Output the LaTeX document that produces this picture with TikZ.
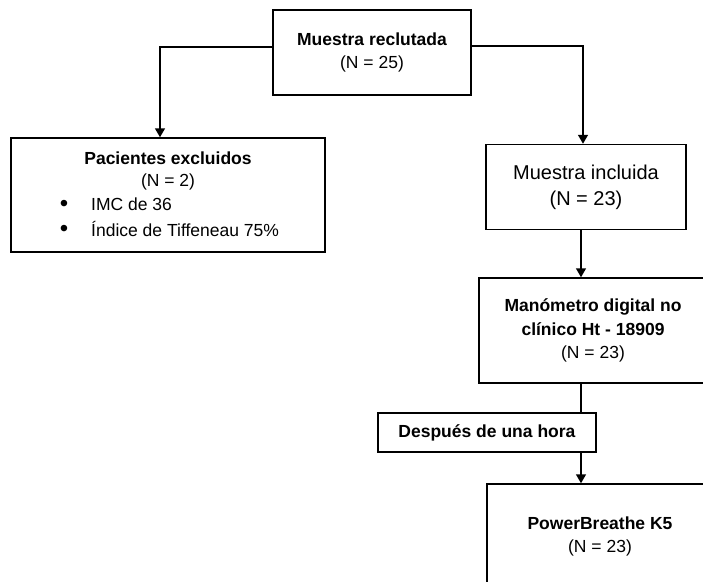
\documentclass[tikz,border=0pt]{standalone}
\usepackage{fontspec}
\setmainfont{Liberation Sans}
\usetikzlibrary{arrows.meta}
\begin{document}
\begin{tikzpicture}[x=1pt,y=-1pt,
  box/.style={draw=black, line width=1.5pt, fill=white, inner sep=0pt, align=center,
    font=\fontsize{17.5}{23.5}\selectfont},
  txt/.style={inner sep=0pt, font=\fontsize{17.5}{23.5}\selectfont},
  dot/.style={inner sep=0pt, font=\fontsize{24}{24}\selectfont},
  conn/.style={draw=black, line width=1.5pt},
  arr/.style={conn, -{Triangle[length=9pt,width=10pt]}}]
\useasboundingbox (0,0) rectangle (703,581);
\clip (0,0) rectangle (703,581);
\fill[white] (0,0) rectangle (703,581);

% boxes
\node[box, minimum width=198pt, minimum height=85pt] (top) at (372,52.5)
  {\textbf{Muestra reclutada}\\(N = 25)};
\node[box, minimum width=314pt, minimum height=114pt] (excl) at (168,195) {};
\node[txt, font=\fontsize{17.5}{23.5}\bfseries] (exclt) at (168,158) {Pacientes excluidos};
\node[txt] (excln) at (168,182) {(N = 2)};
\node[dot] (d1) at (64,205.5) {\textbullet};
\node[dot] (d2) at (64,230.5) {\textbullet};
\node[txt, anchor=west] (b1) at (91,204) {IMC de 36};
\node[txt, anchor=west] (b2) at (91,229) {Índice de Tiffeneau 75\%};

\node[box, minimum width=200pt, minimum height=85pt,
  font=\fontsize{20}{26}\selectfont] (incl) at (586,187)
  {Muestra incluida\\(N = 23)};
\node[box, minimum width=228pt, minimum height=105pt] (mano) at (593,330.5)
  {\textbf{Manómetro digital no}\\\textbf{clínico Ht - 18909}\\(N = 23)};
\node[box, minimum width=218pt, minimum height=39pt] (desp) at (487,432.5)
  {\textbf{Después de una hora}};
\node[box, minimum width=226pt, minimum height=105pt] (pk) at (600,536.5)
  {\textbf{PowerBreathe K5}\\(N = 23)};

% connectors
\coordinate (c1) at (160,47);
\coordinate (c2) at (583,46);
\coordinate (c3) at (581,0);
\draw[arr] (top.west |- c1) -- (c1) -- (c1 |- excl.north);
\draw[arr] (top.east |- c2) -- (c2) -- (c2 |- incl.north);
\draw[arr] (c3 |- incl.south) -- (c3 |- mano.north);
\draw[conn] (c3 |- mano.south) -- (c3 |- desp.north);
\draw[arr] (c3 |- desp.south) -- (c3 |- pk.north);
\end{tikzpicture}
\end{document}
